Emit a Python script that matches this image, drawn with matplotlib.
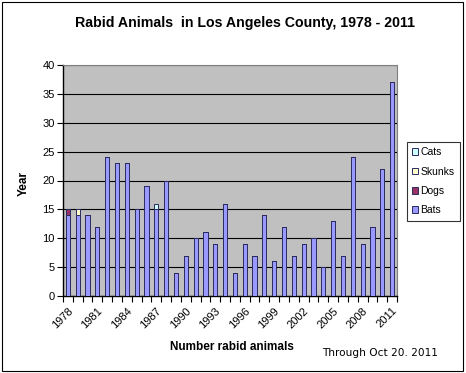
import numpy as np
import matplotlib
matplotlib.use('Agg')
import matplotlib.pyplot as plt
from matplotlib.patches import Rectangle

# rabid animal counts per year
years  = list(range(1978, 2012))
bats   = [14, 14, 14, 12, 24, 23, 23, 15, 19, 15, 20, 4, 7, 10, 11, 9, 16,
          4, 9, 7, 14, 6, 12, 7, 9, 10, 5, 13, 7, 24, 9, 12, 22, 37]
dogs   = [1, 0, 0, 0, 0, 0, 0, 0, 0, 0, 0, 0, 0, 0, 0, 0, 0,
          0, 0, 0, 0, 0, 0, 0, 0, 0, 0, 0, 0, 0, 0, 0, 0, 0]
skunks = [0, 1, 0, 0, 0, 0, 0, 0, 0, 0, 0, 0, 0, 0, 0, 0, 0,
          0, 0, 0, 0, 0, 0, 0, 0, 0, 0, 0, 0, 0, 0, 0, 0, 0]
cats   = [0, 0, 0, 0, 0, 0, 0, 0, 0, 1, 0, 0, 0, 0, 0, 0, 0,
          0, 0, 0, 0, 0, 0, 0, 0, 0, 0, 0, 0, 0, 0, 0, 0, 0]

plt.rcParams['font.family'] = ['Liberation Sans', 'DejaVu Sans']

fig = plt.figure(figsize=(4.66, 3.73), dpi=100)
# outer chart border like excel
fig.patches.append(Rectangle((0.004, 0.005), 0.99, 0.99, transform=fig.transFigure,
                             fill=False, edgecolor='black', linewidth=0.8))

ax = fig.add_axes([63/466, 1-296/373, (397-63)/466, (296-65)/373])
ax.set_facecolor('#c0c0c0')

x = np.arange(len(years))
w = 0.42
edge = '#2a2a60'
series = [('Bats', bats, '#9999ff'), ('Dogs', dogs, '#993366'),
          ('Skunks', skunks, '#ffffcc'), ('Cats', cats, '#ccffff')]
bottom = np.zeros(len(years))
handles = []
for name, vals, col in series:
    vals = np.array(vals, dtype=float)
    b = ax.bar(x, vals, w, bottom=bottom, color=col, edgecolor=edge, linewidth=0.7,
               label=name, zorder=3)
    handles.append(b)
    bottom += vals

ax.set_xlim(-0.5, len(years) - 0.5)
ax.set_ylim(0, 40)
ax.set_yticks(range(0, 41, 5))
ax.yaxis.grid(True, color='black', linewidth=0.8, zorder=1)
ax.tick_params(axis='y', labelsize=8, length=4, width=0.8, direction='out', pad=2)

# labels every third year, tick marks between categories
ax.set_xticks(x[::3])
ax.set_xticklabels([str(y) for y in years[::3]], rotation=45, ha='right',
                   rotation_mode='anchor', fontsize=8)
ax.tick_params(axis='x', length=0, pad=7)
ax.set_xticks(np.arange(-0.5, len(years), 1), minor=True)
ax.tick_params(axis='x', which='minor', length=4, width=0.8, direction='out')

for s in ['top', 'right']:
    ax.spines[s].set_color('#808080')
for s in ['left', 'bottom']:
    ax.spines[s].set_color('black')
    ax.spines[s].set_linewidth(1.0)

fig.text(245/466, 1-23/373, 'Rabid Animals  in Los Angeles County, 1978 - 2011',
         ha='center', va='center', fontsize=10.2, fontweight='bold')
fig.text(232/466, 1-347/373, 'Number rabid animals', ha='center', va='center',
         fontsize=8.5, fontweight='bold')
fig.text(24/466, 1-183/373, 'Year', ha='center', va='center', rotation=90,
         fontsize=8.5, fontweight='bold')
fig.text(380/466, 1-353/373, 'Through Oct 20. 2011', ha='center', va='center',
         fontsize=7.6, family='DejaVu Sans')

leg = fig.legend(handles[::-1], [s[0] for s in series][::-1],
                 loc='upper left', bbox_to_anchor=(407/466, 1-142/373),
                 fontsize=7.5, frameon=True, fancybox=False, edgecolor='black',
                 handlelength=0.6, handleheight=0.6, handletextpad=0.2,
                 labelspacing=0.9, borderpad=0.5, borderaxespad=0)
leg.get_frame().set_linewidth(0.8)

fig.savefig('out.png', dpi=100)
